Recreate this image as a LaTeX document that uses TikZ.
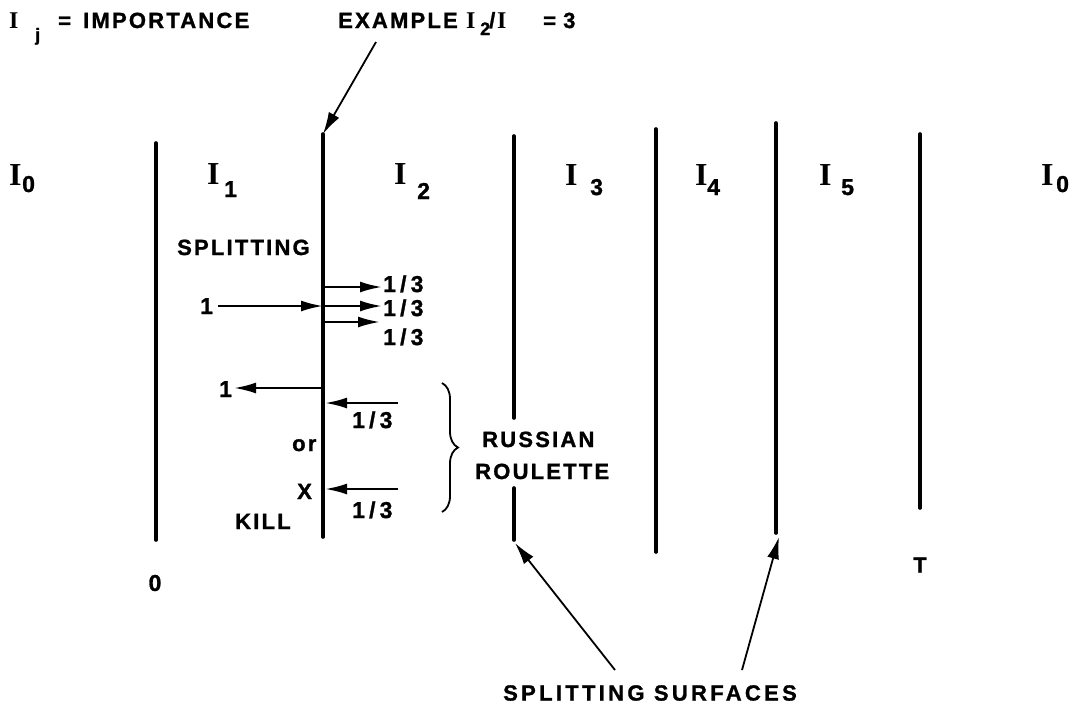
\documentclass[tikz,border=0pt]{standalone}
\usepackage{fontspec}
\setmainfont{Liberation Sans}
\newfontfamily\capfont{Liberation Sans}[LetterSpace=10, FakeBold=1.2]
\newfontfamily\numfont{Liberation Sans}[LetterSpace=18, FakeBold=1.2]
\newfontfamily\widefont{Liberation Sans}[LetterSpace=15, FakeBold=1.2]
\newfontfamily\serifI{Liberation Serif}
\usetikzlibrary{arrows.meta,decorations.pathreplacing}
\tikzset{
  surf/.style={line width=3.6pt, line cap=round},
  arr/.style={line width=2.4pt, -{Latex[length=22pt,width=11pt]}},
  ptr/.style={line width=1.8pt, -{Latex[length=22pt,width=12pt]}},
  captxt/.style={font=\capfont\bfseries\fontsize{22}{26}\selectfont, inner sep=0pt, anchor=base west},
  numtxt/.style={font=\numfont\bfseries\fontsize{23}{26}\selectfont, inner sep=0pt, anchor=base west},
  bigI/.style={font=\serifI\bfseries\fontsize{32}{34}\selectfont, inner sep=0pt, anchor=base west},
  smallI/.style={font=\serifI\bfseries\fontsize{24}{26}\selectfont, inner sep=0pt, anchor=base west},
  subtxt/.style={font=\capfont\bfseries\fontsize{23}{26}\selectfont, inner sep=0pt, anchor=base west},
  smallsub/.style={font=\capfont\bfseries\fontsize{18}{20}\selectfont, inner sep=0pt, anchor=base west},
}
\begin{document}
\begin{tikzpicture}[x=1pt,y=-1pt]
\useasboundingbox (0,0) rectangle (1077,705);

% header
\node[smallI] (hI) at (9,28) {I};
\node[smallsub] (hj) at (35,41) {j};
\node[captxt] (heq) at (58,28) {=};
\node[captxt] (himp) at (83,28) {IMPORTANCE};
\node[captxt] (hex) at (338,28) {EXAMPLE};
\node[smallI] (eI) at (466,28) {I};
\node[smallsub] (e2) at (480,35) {2};
\node[captxt] (eslash) at (489,28) {/};
\node[smallI] (eI2) at (497,28) {I};
\node[captxt] (eeq) at (543,28) {=};
\node[captxt] (e3) at (563,28) {3};

% surfaces
\coordinate (s1t) at (156,143); \coordinate (s1b) at (156,540);
\coordinate (s2t) at (323,134); \coordinate (s2b) at (323,537);
\coordinate (s3t) at (514,136); \coordinate (s3a) at (514,418);
\coordinate (s3c) at (514,488); \coordinate (s3b) at (514,540);
\coordinate (s4t) at (656,129); \coordinate (s4b) at (656,552);
\coordinate (s5t) at (776,123); \coordinate (s5b) at (776,533);
\coordinate (s6t) at (920,134); \coordinate (s6b) at (920,508);
\draw[surf] (s1t) -- (s1b);
\draw[surf] (s2t) -- (s2b);
\draw[surf] (s3t) -- (s3a);
\draw[surf] (s3c) -- (s3b);
\draw[surf] (s4t) -- (s4b);
\draw[surf] (s5t) -- (s5b);
\draw[surf] (s6t) -- (s6b);

% region labels
\node[bigI] (r0I) at (9,185) {I};
\node[subtxt] (r0s) at (22,192) {0};
\node[bigI] (r1I) at (207,184) {I};
\node[subtxt] (r1s) at (224,197) {1};
\node[bigI] (r2I) at (394,184) {I};
\node[subtxt] (r2s) at (417,199) {2};
\node[bigI] (r3I) at (565,185) {I};
\node[subtxt] (r3s) at (590,195) {3};
\node[bigI] (r4I) at (695,185) {I};
\node[subtxt] (r4s) at (707,195) {4};
\node[bigI] (r5I) at (819,185) {I};
\node[subtxt] (r5s) at (841,195) {5};
\node[bigI] (r6I) at (1041,185) {I};
\node[subtxt] (r6s) at (1056,192) {0};

% example pointer
\coordinate (exs) at (376,42);
\draw[ptr] (exs) -- (s2t);

% splitting
\node[captxt] (split) at (177,255) {SPLITTING};
\node[numtxt] (one) at (200,314) {1};
\coordinate (in0) at (218,306);
\coordinate (a1) at (323,287); \coordinate (a1e) at (382,287);
\coordinate (a2) at (323,306); \coordinate (a2e) at (382,306);
\coordinate (a3) at (323,322); \coordinate (a3e) at (380,322);
\draw[arr] (in0) -- (a2);
\draw[arr] (a1) -- (a1e);
\draw[arr] (a2) -- (a2e);
\draw[arr] (a3) -- (a3e);
\node[numtxt] (f1) at (383,292) {1/3};
\node[numtxt] (f2) at (383,316) {1/3};
\node[numtxt] (f3) at (383,345) {1/3};

% russian roulette
\coordinate (b1) at (323,388); \coordinate (b1e) at (234,388);
\draw[arr] (b1) -- (b1e);
\node[numtxt] (oneb) at (219,397) {1};
\coordinate (r1s) at (398,403); \coordinate (r1) at (325,403);
\draw[arr] (r1s) -- (r1);
\node[numtxt] (g1) at (352,428) {1/3};
\node[captxt] (or) at (292,451) {or};
\node[captxt] (X) at (297,499) {X};
\coordinate (r2s) at (398,489); \coordinate (r2) at (325,489);
\draw[arr] (r2s) -- (r2);
\node[numtxt] (g2) at (352,518) {1/3};
\node[captxt] (kill) at (235,529) {KILL};
\draw[line width=1.8pt, decorate, decoration={brace, amplitude=16pt}] (442,383) -- (442,512);
\node[captxt] (rus) at (482,447) {RUSSIAN};
\node[captxt] (rou) at (475,479) {ROULETTE};

% bottom labels
\node[numtxt, anchor=center] (zero) at (155,583) {0};
\node[captxt, anchor=center] (T) at (920,565) {T};
\node[font=\widefont\bfseries\fontsize{22}{26}\selectfont, inner sep=0pt, anchor=center] (ss) at (650,693) {SPLITTING SURFACES};
\coordinate (p1) at (615,670); \coordinate (p2) at (742,670);
\coordinate (q1) at (515,543); \coordinate (q2) at (779,537);
\draw[ptr] (p1) -- (q1);
\draw[ptr] (p2) -- (q2);
\end{tikzpicture}
\end{document}
